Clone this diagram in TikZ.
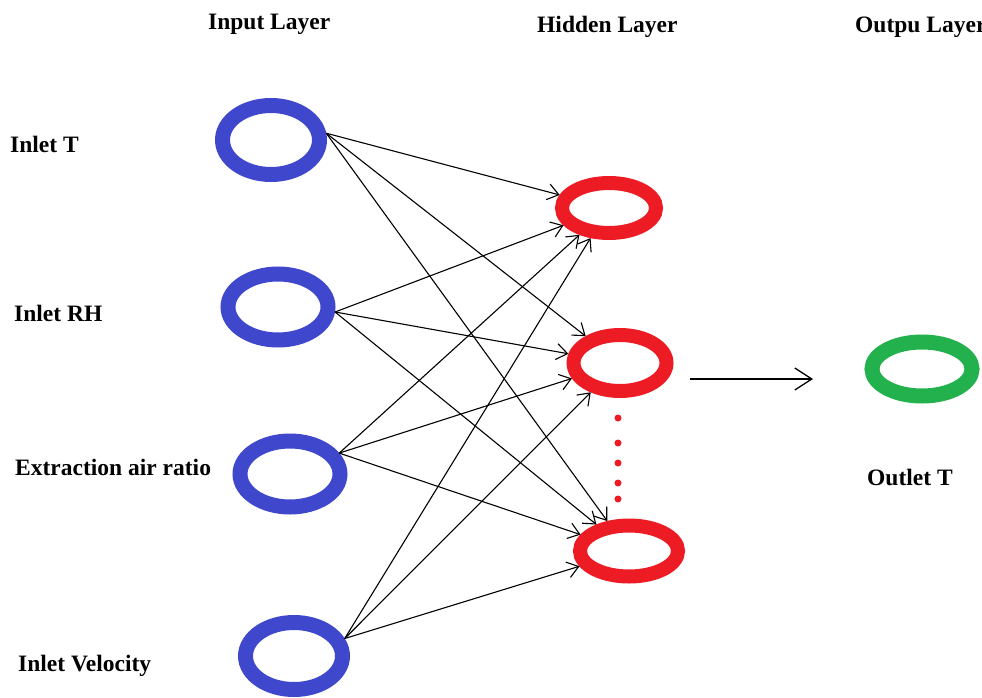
\documentclass[tikz,border=0pt]{standalone}
\usepackage{fontspec}
\setmainfont{Liberation Serif}
\usetikzlibrary{shapes.geometric,arrows.meta}
\definecolor{pblue}{RGB}{63,72,204}
\definecolor{pred}{RGB}{237,28,36}
\definecolor{pgreen}{RGB}{34,177,76}
\tikzset{
  innode/.style={ellipse,draw=pblue,line width=15pt,inner sep=0pt},
  hidnode/.style={ellipse,draw=pred,line width=14pt,inner sep=0pt},
  outnode/.style={ellipse,draw=pgreen,line width=15pt,inner sep=0pt},
  lbl/.style={anchor=base west,inner sep=0pt,font=\fontsize{23.5}{28}\selectfont\bfseries},
  conn/.style={line width=1.1pt,-{Straight Barb[length=11pt,width=16pt]}},
  bigarrow/.style={line width=1.3pt,-{Straight Barb[length=17pt,width=22pt]}},
  reddot/.style={circle,fill=pred,inner sep=0pt,minimum size=7pt}
}
\begin{document}
\begin{tikzpicture}[x=1pt,y=-1pt]
\useasboundingbox (0,0) rectangle (982,698);
% input nodes
\node[innode,minimum width=97pt,minimum height=69pt] (i1) at (271,140) {};
\node[innode,minimum width=100pt,minimum height=66pt] (i2) at (278,307) {};
\node[innode,minimum width=100pt,minimum height=66pt] (i3) at (290,474) {};
\node[innode,minimum width=97pt,minimum height=67pt] (i4) at (294,656) {};
% hidden nodes
\node[hidnode,minimum width=94pt,minimum height=50pt] (h1) at (609,208) {};
\node[hidnode,minimum width=93pt,minimum height=56pt] (h2) at (620,363) {};
\node[hidnode,minimum width=98pt,minimum height=51pt] (h3) at (629,551) {};
% output node
\node[outnode,minimum width=100pt,minimum height=54pt] (o) at (922,369) {};
% dots
\node[reddot] (d1) at (618,418) {};
\node[reddot] (d2) at (618,443) {};
\node[reddot] (d3) at (618,463) {};
\node[reddot] (d4) at (618,483) {};
\node[reddot] (d5) at (618,499) {};
% connectors
\foreach \h in {h1,h2,h3}{
  \draw[conn] (i1.7) -- (\h);
  \draw[conn] (i2.355) -- (\h);
  \draw[conn] (i3.23) -- (\h);
  \draw[conn] (i4.19) -- (\h);
}
\coordinate (a1) at (690,379);
\coordinate (a2) at (813,379);
\draw[bigarrow] (a1) -- (a2);
% labels
\node[lbl] (t1) at (208,30) {Input Layer};
\node[lbl] (t2) at (537,33) {Hidden Layer};
\node[lbl] (t3) at (855,33) {Outpu Layer};
\node[lbl] (l1) at (10,153) {Inlet T};
\node[lbl] (l2) at (14,321) {Inlet RH};
\node[lbl] (l3) at (15,475) {Extraction air ratio};
\node[lbl] (l4) at (18,671) {Inlet Velocity};
\node[lbl] (l5) at (867,485) {Outlet T};
\end{tikzpicture}
\end{document}
